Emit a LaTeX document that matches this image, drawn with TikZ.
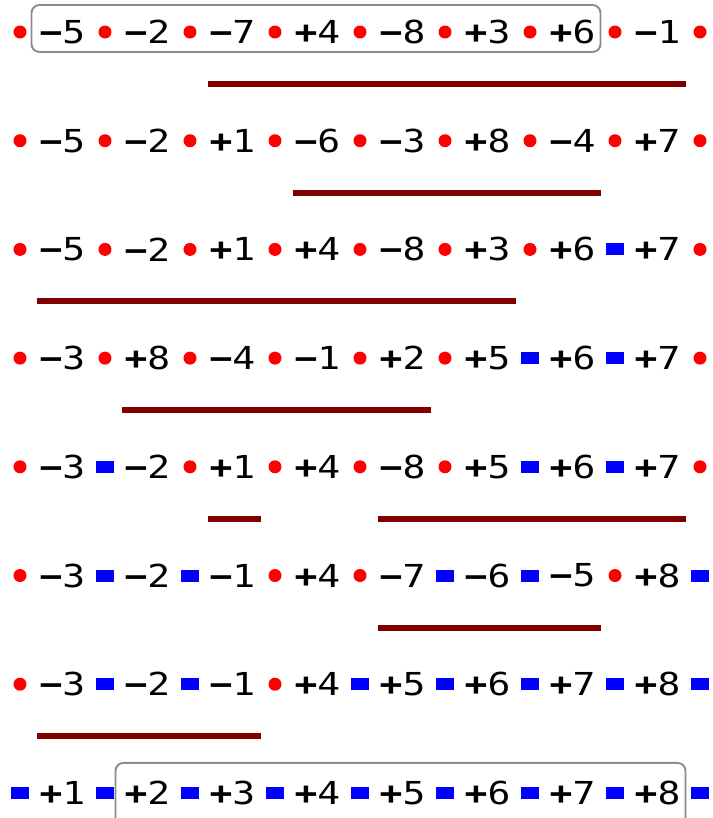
\documentclass[tikz,border=0pt]{standalone}
\usepackage{fontspec}
\setmonofont[FakeStretch=1.2]{DejaVu Sans Mono}
\begin{document}
\begin{tikzpicture}[
    every node/.style={font=\ttfamily\fontsize{18}{20}\selectfont},
    elem/.style={inner sep=0pt},
    brk/.style={circle, fill=red, inner sep=0pt, minimum size=2.6mm},
    adj/.style={rectangle, fill=blue, inner sep=0pt,
        minimum width=3.6mm, minimum height=2.4mm},
    revbar/.style={draw=red!50!black, line width=1.2mm},
    strip/.style={draw=black!45, line width=1.1pt, rounded corners=1.6mm}
]

\def\cw{1.70cm}
\def\rh{2.174cm}
\def\mn{\textbf{−}}
\def\pl{\textbf{+}}

% eine Zeile: Trenner (brk/adj) und Elemente
\def\permrow#1#2#3{%
    \foreach \t [count=\i from 0] in {#2}
        \node[\t] (r#1s\i) at (\i*\cw, {-(#1-1)*\rh}) {};
    \foreach \v [count=\i] in {#3}
        \node[elem] (r#1n\i) at (\i*\cw-0.5*\cw, {-(#1-1)*\rh}) {\v};
}
% Balken unter dem umgedrehten Abschnitt
\def\revseg#1#2#3{%
    \draw[revbar] ([xshift=-5mm, yshift=-10.4mm]r#1n#2.center)
        -- ([xshift=5.7mm, yshift=-10.4mm]r#1n#3.center);
}

\useasboundingbox (-0.4,0.64) rectangle (13.86,-15.72);

% Zeilen
\permrow{1}{brk,brk,brk,brk,brk,brk,brk,brk,brk}
    {\mn5,\mn2,\mn7,\pl4,\mn8,\pl3,\pl6,\mn1}
\permrow{2}{brk,brk,brk,brk,brk,brk,brk,brk,brk}
    {\mn5,\mn2,\pl1,\mn6,\mn3,\pl8,\mn4,\pl7}
\permrow{3}{brk,brk,brk,brk,brk,brk,brk,adj,brk}
    {\mn5,\mn2,\pl1,\pl4,\mn8,\pl3,\pl6,\pl7}
\permrow{4}{brk,brk,brk,brk,brk,brk,adj,adj,brk}
    {\mn3,\pl8,\mn4,\mn1,\pl2,\pl5,\pl6,\pl7}
\permrow{5}{brk,adj,brk,brk,brk,brk,adj,adj,brk}
    {\mn3,\mn2,\pl1,\pl4,\mn8,\pl5,\pl6,\pl7}
\permrow{6}{brk,adj,adj,brk,brk,adj,adj,brk,adj}
    {\mn3,\mn2,\mn1,\pl4,\mn7,\mn6,\mn5,\pl8}
\permrow{7}{brk,adj,adj,brk,adj,adj,adj,adj,adj}
    {\mn3,\mn2,\mn1,\pl4,\pl5,\pl6,\pl7,\pl8}
\permrow{8}{adj,adj,adj,adj,adj,adj,adj,adj,adj}
    {\pl1,\pl2,\pl3,\pl4,\pl5,\pl6,\pl7,\pl8}

% Umkehrungen
\revseg{1}{3}{8}
\revseg{2}{4}{7}
\revseg{3}{1}{6}
\revseg{4}{2}{5}
\revseg{5}{3}{3}
\revseg{5}{5}{8}
\revseg{6}{5}{7}
\revseg{7}{1}{3}

% Rahmen oben und unten
\draw[strip] ([xshift=-6.2mm, yshift=5.4mm]r1n1.center)
    rectangle ([xshift=5.6mm, yshift=-4mm]r1n7.center);
\draw[strip] ([xshift=-6.4mm, yshift=6mm]r8n2.center)
    rectangle ([xshift=5.6mm, yshift=-7.5mm]r8n8.center);

\end{tikzpicture}
\end{document}
